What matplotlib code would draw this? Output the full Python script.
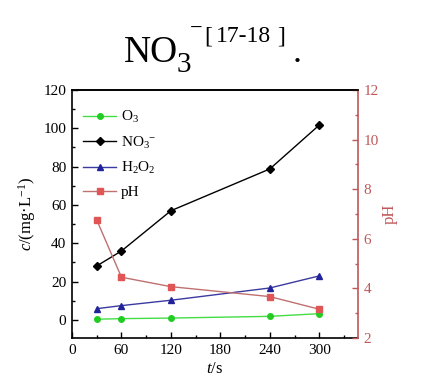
import matplotlib
matplotlib.use("Agg")
import matplotlib.pyplot as plt
from matplotlib.ticker import MultipleLocator

plt.rcParams['font.family'] = ['Liberation Serif', 'DejaVu Serif']
plt.rcParams['mathtext.fontset'] = 'custom'
plt.rcParams['mathtext.rm'] = 'Liberation Serif'
plt.rcParams['mathtext.it'] = 'Liberation Serif:italic'

# data
t = [30, 60, 120, 240, 300]
o3 = [0.4, 0.7, 1.0, 1.9, 3.3]
no3 = [28.2, 36.0, 57.0, 78.8, 101.7]
h2o2 = [5.9, 7.5, 10.3, 16.7, 23.0]
ph = [6.76, 4.45, 4.07, 3.67, 3.16]
xticks = [0, 60, 120, 180, 240, 300]
yticks_left = [0, 20, 40, 60, 80, 100, 120]
yticks_right = [2, 4, 6, 8, 10, 12]

W, H = 426, 385
fig = plt.figure(figsize=(W / 100, H / 100), dpi=100)
ax = fig.add_axes([72 / W, 1 - 338 / H, (358 - 72) / W, (338 - 90) / H])
ax2 = ax.twinx()

red_axis = '#c0585a'
green_line = '#44dd44'
green_mk = '#22cc22'
blue = '#22229a'
blue_line = '#3a3aa0'
ph_line = '#c07070'
ph_mk = '#e05555'

l1, = ax.plot(t, o3, color=green_line, marker='o', markersize=4,
              markerfacecolor=green_mk, markeredgecolor=green_mk, lw=1)
l2, = ax.plot(t, no3, color='black', marker='D', markersize=4, lw=1)
l3, = ax.plot(t, h2o2, color=blue_line, marker='^', markersize=5,
              markerfacecolor=blue, markeredgecolor=blue, lw=1)
l4, = ax2.plot(t, ph, color=ph_line, marker='s', markersize=4,
               markerfacecolor=ph_mk, markeredgecolor=ph_mk, lw=1)

ax.set_xlim(0, 347)
ax.set_ylim(-9.4, 120)
ax2.set_ylim(2, 12)

ax.set_xticks(xticks)
ax.set_yticks(yticks_left)
ax2.set_yticks(yticks_right)
ax.xaxis.set_minor_locator(MultipleLocator(30))
ax.yaxis.set_minor_locator(MultipleLocator(10))
ax2.yaxis.set_minor_locator(MultipleLocator(1))

ax.tick_params(which='both', direction='in', labelsize=11, width=1, pad=4)
ax.tick_params(which='major', length=4)
ax.tick_params(which='minor', length=2)
ax.tick_params(axis='x', which='both', top=False)
ax2.tick_params(which='both', direction='in', labelsize=11, colors=red_axis, width=1, pad=4)
ax2.tick_params(which='major', length=4)
ax2.tick_params(which='minor', length=2)

for s in ['left', 'bottom', 'top']:
    ax.spines[s].set_linewidth(1.2)
ax2.spines['right'].set_color(red_axis)
ax2.spines['right'].set_linewidth(1.2)
ax2.spines['left'].set_visible(False)
ax2.spines['top'].set_linewidth(1.2)
ax2.spines['bottom'].set_visible(False)
ax.spines['right'].set_visible(False)

ax.set_xlabel(r'$\mathit{t}$/s', fontsize=12, labelpad=3)
ax.set_ylabel(r'$\mathit{c}$/(mg·L$^{-1}$)', fontsize=12, labelpad=4)
ax2.set_ylabel('pH', fontsize=12, color=red_axis, labelpad=2)

ax.legend([l1, l2, l3, l4], [r'O$_3$', r'NO$_3$$^{-}$', r'H$_2$O$_2$', 'pH'],
          loc='upper left', frameon=False, fontsize=11, handlelength=2.2,
          handletextpad=0.3, labelspacing=0.6, borderaxespad=0.3,
          bbox_to_anchor=(0.0, 0.965))

# title-like text at top
def ftext(x, y, s, size):
    fig.text(x / W, 1 - y / H, s, fontsize=size, va='baseline', ha='left',
             family='Liberation Serif')

ftext(124, 62, 'NO', 27)
ftext(177, 72, '3', 21)
ftext(190, 34, '\u2212', 16)
ftext(204, 42, '[', 17)
ftext(216, 42, '17-18', 17)
ftext(277, 42, ']', 17)
ftext(293, 62, '.', 26)

fig.savefig('out.png', dpi=100)
